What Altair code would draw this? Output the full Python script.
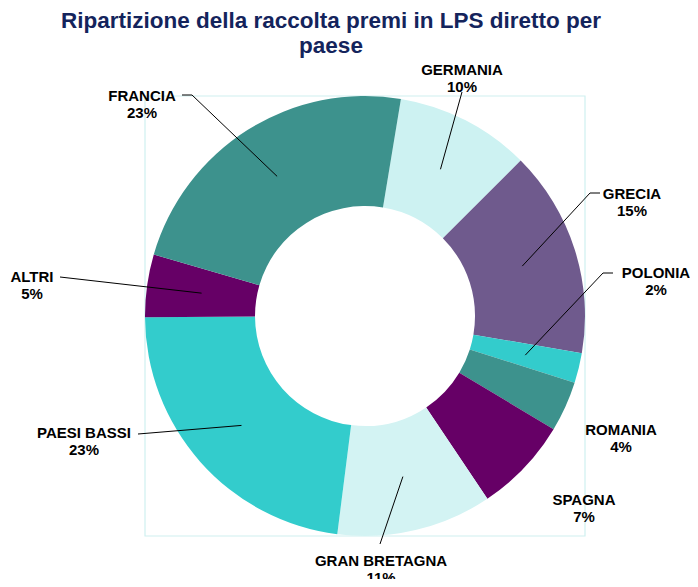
import math
import altair as alt
import pandas as pd

# ---- data ----
countries = ["GERMANIA", "GRECIA", "POLONIA", "ROMANIA", "SPAGNA",
             "GRAN BRETAGNA", "PAESI BASSI", "ALTRI", "FRANCIA"]
shares = [9.9, 15.2, 2.2, 3.7, 7.0, 11.4, 22.9, 4.6, 23.1]
colors = ["#CDF2F2", "#6F5A8D", "#33CCCC", "#3D928D", "#660066",
          "#D3F3F3", "#33CCCC", "#660066", "#3D928D"]
pct_labels = [f"{round(v)}%" for v in shares]
title_lines = ["Ripartizione della raccolta premi in LPS diretto per", "paese"]

# ---- layout (page pixels) ----
CX, CY = 365, 316          # donut centre
R_OUT, R_IN = 220, 110
START_DEG = 9.4            # first slice starts slightly right of 12 o'clock
R_LEAD = 165               # leader lines start at mid-ring

# label centres relative to donut centre (manually placed as in the original)
label_offsets = {
    "GERMANIA": (97, -246), "GRECIA": (267, -122), "POLONIA": (291, -43),
    "ROMANIA": (256, 114), "SPAGNA": (219, 184), "GRAN BRETAGNA": (16, 245),
    "PAESI BASSI": (-281, 117), "ALTRI": (-333, -39), "FRANCIA": (-223, -220),
}
# leader line anchor points near the labels (relative to centre)
leader_anchors = {
    "GERMANIA": [(97, -224)],
    "FRANCIA": [(-183, -221), (-173, -221)],
    "GRECIA": [(235, -123), (225, -123)],
    "POLONIA": [(248, -43), (238, -43)],
    "GRAN BRETAGNA": [(15, 228)],
    "PAESI BASSI": [(-227, 118)],
    "ALTRI": [(-305, -39)],
}

df = pd.DataFrame({"country": countries, "share": shares,
                   "order": list(range(len(countries))),
                   "label": [f"{c}\n{p}" for c, p in zip(countries, pct_labels)]})

total = sum(shares)
cum = 0.0
mids = {}
for c, v in zip(countries, shares):
    mids[c] = START_DEG + (cum + v / 2) / total * 360
    cum += v

lab = pd.DataFrame({
    "label": df["label"],
    "x": [CX + label_offsets[c][0] for c in countries],
    "y": [CY + label_offsets[c][1] for c in countries],
})

segs = []
for c, pts in leader_anchors.items():
    a = math.radians(mids[c])
    p_slice = (CX + R_LEAD * math.sin(a), CY - R_LEAD * math.cos(a))
    chain = [(CX + dx, CY + dy) for dx, dy in pts] + [p_slice]
    for (x1, y1), (x2, y2) in zip(chain[:-1], chain[1:]):
        segs.append({"x": x1, "y": y1, "x2": x2, "y2": y2})
seg_df = pd.DataFrame(segs)

box = pd.DataFrame([{"x": CX - R_OUT, "y": CY - R_OUT, "x2": CX + R_OUT, "y2": CY + R_OUT}])
title_df = pd.DataFrame({"t": title_lines, "x": [331, 331], "y": [21, 46]})

W, H = 682, 571
xs = alt.Scale(domain=[8, 8 + W], zero=False, nice=False)
ys = alt.Scale(domain=[8 + H, 8], zero=False, nice=False)

frame = alt.Chart(box).mark_rect(fill=None, stroke="#CFF0F0", strokeWidth=1.2).encode(
    x=alt.X("x:Q", scale=xs, axis=None), y=alt.Y("y:Q", scale=ys, axis=None),
    x2="x2:Q", y2="y2:Q")

start = math.radians(START_DEG)
donut = alt.Chart(df).mark_arc(outerRadius=R_OUT, innerRadius=R_IN).encode(
    theta=alt.Theta("share:Q", stack=True,
                    scale=alt.Scale(range=[start, start + 2 * math.pi])),
    order=alt.Order("order:Q"),
    color=alt.Color("country:N", legend=None,
                    scale=alt.Scale(domain=countries, range=colors)),
    x=alt.value(CX - 8), y=alt.value(CY - 8),
)

leaders = alt.Chart(seg_df).mark_rule(color="black", strokeWidth=1).encode(
    x=alt.X("x:Q", scale=xs, axis=None), y=alt.Y("y:Q", scale=ys, axis=None),
    x2="x2:Q", y2="y2:Q")

labels = alt.Chart(lab).mark_text(
    font="Liberation Sans", fontSize=15, fontWeight="bold", color="black",
    lineBreak="\n", lineHeight=17, align="center", baseline="middle").encode(
    x=alt.X("x:Q", scale=xs, axis=None), y=alt.Y("y:Q", scale=ys, axis=None),
    text="label:N")

title = alt.Chart(title_df).mark_text(
    font="Liberation Sans", fontSize=22.5, fontWeight="bold", color="#14245C",
    align="center", baseline="middle").encode(
    x=alt.X("x:Q", scale=xs, axis=None), y=alt.Y("y:Q", scale=ys, axis=None),
    text="t:N")

chart = alt.layer(frame, donut, leaders, labels, title).properties(
    width=W, height=H, padding=0, autosize="none"
).configure_view(stroke=None)

chart.save("out.html", embed_options={"renderer": "svg", "actions": False})
